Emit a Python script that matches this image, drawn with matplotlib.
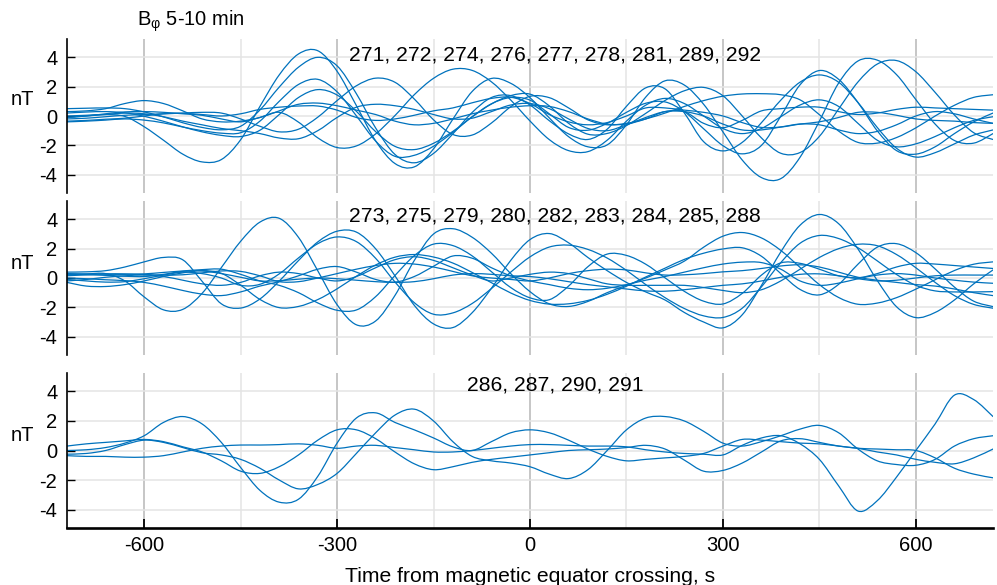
import matplotlib
matplotlib.use("Agg")
import matplotlib.pyplot as plt
from matplotlib.ticker import FixedLocator
from matplotlib.path import Path
from matplotlib.patches import PathPatch

plt.rcParams['font.family'] = ['Liberation Sans', 'DejaVu Sans']
plt.rcParams['mathtext.fontset'] = 'custom'
plt.rcParams['mathtext.rm'] = 'Liberation Sans'
plt.rcParams['mathtext.it'] = 'Liberation Sans:italic'
plt.rcParams['axes.unicode_minus'] = False

# ---------------- data ----------------
TIME_S = list(range(-720, 721, 30))   # sample times, s

X_TICKS = [-600, -300, 0, 300, 600]
X_MINOR = [-450, -150, 150, 450]
Y_TICKS = [-4, -2, 0, 2, 4]

TITLE = r'B$_{\mathrm{φ}}$ 5-10 min'
PANEL_LABELS = ['271, 272, 274, 276, 277, 278, 281, 289, 292',
                '273, 275, 279, 280, 282, 283, 284, 285, 288',
                '286, 287, 290, 291']
Y_LABEL = 'nT'
X_LABEL = 'Time from magnetic equator crossing, s'

# Panel 1 (nT)
T1 = [0.0, 0.05, 0.1, -0.03, -0.73, -1.65, -2.6, -3.13, -2.97, -1.62, 0.65, 2.8, 4.23, 4.45, 3.05, 0.71, -1.7, -3.24, -3.47, -2.24, -0.22, 1.67, 2.56, 2.23, 1.25, -0.13, -1.41, -2.1, -1.97, -0.6, 1.29, 2.4, 2.11, 0.8, -1.08, -3.0, -4.2, -4.27, -2.81, -0.35, 2.25, 3.75, 3.81, 2.82, 1.12, -0.55, -1.67, -1.85, -1.2]
T2 = [0.5, 0.53, 0.55, 0.5, 0.28, -0.06, -0.46, -0.78, -0.94, -0.7, 0.41, 1.97, 3.33, 4.0, 3.42, 1.52, -0.82, -2.62, -3.19, -2.55, -1.22, 0.24, 1.26, 1.39, 0.75, -0.32, -1.22, -1.6, -0.9, 0.66, 1.92, 1.85, 0.21, -1.75, -2.38, -1.8, -0.45, 1.08, 2.31, 2.8, 2.3, 0.92, -0.78, -2.2, -2.8, -2.5, -1.9, -1.3, -0.95]
T3 = [-0.4, -0.35, -0.28, -0.2, -0.28, -0.47, -0.75, -1.0, -1.17, -1.14, -0.35, 1.0, 2.15, 2.5, 1.65, 0.01, -1.71, -2.75, -2.68, -2.06, -1.12, -0.05, 0.83, 1.26, 1.08, 0.15, -0.78, -0.97, -0.5, 0.25, 0.87, 0.96, 0.3, -0.87, -2.02, -2.58, -2.0, -0.01, 2.13, 3.1, 2.5, 0.92, -1.01, -2.36, -2.6, -2.1, -1.2, -0.4, 0.2]
T4 = [0.2, 0.27, 0.3, 0.22, -0.02, -0.36, -0.74, -1.08, -1.32, -1.4, -0.97, 0.1, 1.26, 1.8, 1.43, 0.32, -1.07, -2.07, -2.29, -1.86, -1.05, -0.06, 0.82, 1.39, 1.49, 0.69, -0.5, -1.24, -1.19, -0.65, 0.18, 1.06, 1.72, 1.95, 1.38, 0.0, -1.5, -2.54, -2.49, -1.39, 0.48, 2.32, 3.54, 3.78, 3.02, 1.61, 0.07, -1.14, -1.6]
T5 = [0.3, 0.35, 0.5, 0.85, 1.05, 0.85, 0.35, -0.2, -0.4, -0.35, -0.1, 0.35, 0.8, 0.88, 0.7, 0.4, 0.1, -0.35, -0.6, -0.5, -0.2, 0.15, 0.4, 0.6, 0.7, 0.65, 0.3, -0.2, -0.55, -0.55, -0.2, 0.3, 0.3, -0.5, -0.8, -0.3, 0.35, 0.5, 0.6, 0.6, 0.3, 0.1, 0.2, 0.45, 0.6, 0.55, 0.5, 0.45, 0.4]
T6 = [-0.2, -0.15, -0.05, 0.05, 0.1, 0.15, 0.2, 0.25, 0.2, -0.2, -0.7, -1.08, -0.9, -0.08, 1.05, 2.06, 2.58, 2.3, 1.16, -0.26, -1.26, -1.3, -0.48, 0.63, 1.34, 1.25, 0.55, -0.26, -0.6, -0.5, -0.2, 0.2, 0.65, 1.05, 1.35, 1.5, 1.52, 1.45, 1.1, 0.09, -1.03, -1.8, -1.85, -1.47, -0.81, 0.0, 0.73, 1.27, 1.45]
T7 = [-0.1, 0.0, 0.1, 0.2, 0.15, -0.05, -0.35, -0.6, -0.85, -1.0, -1.2, -1.5, -1.55, -1.0, -0.1, 0.6, 0.8, 0.7, 0.45, 0.1, -0.2, -0.15, 0.3, 0.75, 0.85, 0.5, -0.2, -0.85, -1.0, -0.6, -0.1, 0.3, 0.3, 0.0, -0.55, -0.95, -0.95, -0.75, -0.55, -0.6, -0.95, -1.2, -1.05, -0.6, 0.0, 0.3, 0.15, -0.2, -0.5]
T8 = [-0.1, 0.0, 0.15, 0.28, 0.3, 0.25, 0.15, 0.05, -0.2, -0.4, -0.1, 0.25, -0.42, -1.49, -2.15, -2.04, -1.22, 0.03, 1.45, 2.57, 3.19, 3.11, 2.33, 1.09, -0.34, -1.61, -2.36, -2.43, -1.65, -0.35, 0.74, 1.2, 0.85, 0.0, -0.85, -1.2, -0.85, -0.05, 0.75, 1.1, 0.65, -0.5, -1.65, -2.1, -1.9, -1.4, -0.8, -0.3, -0.05]
T9 = [-0.35, -0.3, -0.22, -0.15, 0.0, 0.15, 0.18, 0.1, 0.0, 0.15, 0.45, 0.6, 0.68, 0.68, 0.4, -0.1, -0.3, -0.2, 0.05, 0.35, 0.55, 0.9, 1.2, 1.28, 0.85, 0.1, -0.4, -0.6, -0.45, 0.0, 0.55, 0.55, 0.4, 0.25, 0.0, -0.45, -0.78, -0.75, -0.55, -0.4, -0.1, 0.25, 0.25, 0.05, -0.2, -0.3, -0.35, -0.45, -0.5]

# Panel 2 (nT)
M1 = [0.2, 0.27, 0.3, -0.2, -1.29, -2.17, -2.14, -1.05, 0.71, 2.5, 3.81, 4.07, 2.77, 0.49, -1.82, -3.19, -2.93, -1.19, 1.19, 3.0, 3.36, 2.78, 1.69, 0.3, -0.93, -1.76, -1.94, -1.6, -1.0, -0.5, 0.0, 0.55, 1.15, 2.1, 2.85, 3.1, 2.73, 1.88, 0.72, -0.45, -1.33, -1.79, -1.71, -1.34, -0.76, -0.12, 0.51, 0.94, 1.1]
M2 = [0.4, 0.42, 0.5, 0.75, 1.1, 1.4, 1.24, -0.22, -1.76, -2.05, -1.43, -0.21, 1.19, 2.46, 3.19, 3.13, 1.99, 0.15, -1.86, -3.13, -3.38, -2.37, -0.7, 1.2, 2.62, 3.03, 2.4, 1.4, 0.5, -0.3, -0.95, -1.5, -2.35, -3.0, -3.4, -2.51, -0.5, 1.78, 3.6, 4.33, 3.7, 1.98, -0.17, -1.96, -2.7, -2.35, -1.5, -0.4, 0.55]
M3 = [-0.1, -0.2, -0.28, -0.25, -0.05, 0.2, 0.4, 0.3, 0.0, -0.5, -0.43, 0.28, 1.37, 2.34, 2.8, 2.48, 1.34, -0.27, -1.68, -2.47, -2.38, -1.74, -0.72, 0.4, 1.44, 2.11, 2.24, 1.95, 1.36, 0.52, -0.45, -1.34, -2.08, -2.58, -2.69, -2.06, -0.6, 1.05, 2.37, 2.9, 2.69, 2.06, 1.17, 0.24, -0.5, -0.88, -0.95, -0.95, -0.93]
M4 = [-0.3, -0.55, -0.58, -0.45, -0.2, 0.1, 0.35, 0.5, 0.32, -0.49, -1.46, -2.02, -1.94, -1.47, -0.74, 0.12, 0.89, 1.42, 1.6, 1.43, 1.02, 0.38, -0.32, -1.02, -1.53, -1.78, -1.76, -1.53, -1.11, -0.56, 0.07, 0.67, 1.27, 1.69, 1.98, 2.06, 1.48, 0.3, -0.78, -1.15, -0.43, 0.94, 2.1, 2.34, 1.73, 0.62, -0.62, -1.58, -1.95]
M5 = [0.3, 0.28, 0.26, 0.25, 0.28, 0.38, 0.48, 0.57, 0.6, 0.25, -0.2, -0.5, -1.0, -1.7, -2.2, -2.18, -1.27, 0.17, 1.52, 2.31, 2.21, 1.51, 0.43, -0.65, -1.35, -1.48, -0.55, 0.77, 1.63, 1.54, 0.94, 0.01, -0.91, -1.58, -1.77, -1.05, 0.2, 1.03, 1.0, 0.6, 0.15, 0.02, 0.3, 0.75, 1.0, 0.95, 0.85, 0.75, 0.65]
M6 = [0.0, -0.05, -0.12, -0.18, -0.3, -0.55, -0.85, -1.1, -1.2, -0.95, -0.55, -0.25, 0.15, 0.6, 0.78, 0.4, -0.1, -0.28, 0.1, 0.8, 1.5, 1.35, 0.7, 0.15, -0.2, -0.45, -0.7, -0.8, -0.7, -0.45, -0.15, 0.1, 0.4, 0.7, 0.95, 1.08, 1.05, 0.6, -0.2, -0.5, -0.35, -0.05, 0.2, 0.3, 0.2, 0.0, -0.15, -0.28, -0.36]
M7 = [0.15, 0.22, 0.28, 0.28, 0.24, 0.2, 0.22, 0.35, 0.48, 0.45, 0.15, -0.25, -0.25, 0.0, 0.3, 0.6, 0.85, 1.0, 0.95, 0.75, 0.45, 0.15, 0.0, -0.1, -0.2, 0.0, 0.3, 0.5, 0.6, 0.55, 0.35, 0.2, 0.22, 0.3, 0.42, 0.5, 0.65, 0.82, 0.9, 0.75, 0.4, 0.05, -0.15, -0.3, -0.45, -0.55, -0.75, -1.0, -1.2]
M8 = [-0.2, -0.1, 0.05, 0.15, 0.2, 0.1, -0.15, -0.4, -0.5, -0.3, 0.15, 0.4, 0.3, 0.0, -0.2, 0.1, 0.7, 1.25, 1.45, 1.2, 0.7, 0.2, -0.2, 0.0, 0.25, 0.4, 0.3, -0.05, -0.4, -0.5, -0.5, -0.5, -0.5, -0.65, -0.85, -1.0, -0.8, -0.2, 0.6, 1.4, 2.0, 2.3, 2.2, 1.6, 0.7, -0.3, -1.2, -1.8, -2.06]
M9 = [0.25, 0.22, 0.18, 0.12, 0.1, 0.25, 0.45, 0.48, 0.3, 0.05, -0.2, -0.18, -0.08, 0.0, -0.05, -0.15, -0.25, -0.3, -0.25, -0.05, 0.2, 0.3, 0.25, 0.15, 0.1, -0.05, -0.25, -0.45, -0.6, -0.75, -0.88, -0.9, -0.8, -0.65, -0.5, -0.4, -0.2, 0.05, 0.25, 0.28, 0.15, -0.05, -0.2, -0.15, 0.0, 0.15, 0.2, 0.2, 0.2]

# Panel 3 (nT)
B1 = [0.0, 0.05, 0.2, 0.5, 1.0, 1.9, 2.3, 1.8, 0.55, -1.15, -2.7, -3.5, -3.3, -1.75, 0.5, 2.2, 2.55, 1.9, 1.4, 0.85, 0.25, 0.0, 0.6, 1.2, 1.4, 1.2, 0.7, 0.1, -0.4, -0.7, -0.6, -0.5, -0.4, -0.2, 0.3, 0.75, 0.7, 0.6, 0.5, 0.45, 0.3, 0.15, 0.1, 0.05, 0.0, -0.5, -1.2, -1.6, -1.85]
B2 = [-0.25, -0.2, 0.0, 0.4, 0.7, 0.55, 0.2, -0.15, -0.3, -0.6, -1.2, -2.0, -2.6, -2.3, -1.55, -0.2, 1.2, 2.4, 2.8, 2.0, 0.6, -0.4, -0.7, -0.85, -1.1, -1.6, -1.9, -1.3, 0.0, 1.4, 2.2, 2.3, 2.0, 1.3, 0.5, 0.3, 0.6, 1.0, 1.45, 1.7, 1.2, 0.1, -0.7, -0.95, -1.0, -0.6, 0.3, 0.8, 1.0]
B3 = [-0.35, -0.4, -0.4, -0.45, -0.45, -0.35, -0.1, 0.15, 0.3, 0.37, 0.37, 0.4, 0.45, 0.35, 0.15, 0.3, 0.35, 0.2, 0.05, -0.1, -0.1, 0.0, 0.15, 0.3, 0.4, 0.4, 0.35, 0.3, 0.3, 0.25, 0.05, -0.1, -0.2, -0.25, -0.3, 0.35, 0.85, 1.0, 0.45, -0.6, -2.4, -4.1, -3.4, -1.8, 0.0, 1.8, 3.75, 3.45, 2.3]
B4 = [0.3, 0.45, 0.55, 0.65, 0.75, 0.6, 0.25, -0.1, -0.7, -1.4, -1.55, -1.1, -0.3, 0.7, 1.4, 1.4, 0.8, -0.1, -0.9, -1.3, -1.1, -0.8, -0.6, -0.45, -0.3, -0.15, 0.0, 0.05, 0.1, 0.2, 0.35, 0.1, -0.65, -1.4, -1.35, -0.85, -0.1, 0.65, 0.8, 0.55, 0.3, 0.15, -0.1, -0.3, -0.6, -0.8, -0.9, -0.5, 0.1]

PANELS = [[T1, T2, T3, T4, T5, T6, T7, T8, T9],
          [M1, M2, M3, M4, M5, M6, M7, M8, M9],
          [B1, B2, B3, B4]]

# ---------------- style ----------------
FS = 14.5
FS_TEXT = 15.2
LINE_COLOR = '#0072BD'
W, H = 997, 585
AX_BOXES = [(67, 39, 993, 193), (67, 201, 993, 355), (67, 373, 993, 528)]  # px: left, top, right, bottom
LABEL_Y = [3.76, 3.88, 4.05]
NT_Y = [1.15, 1.0, 1.0]


def smooth_path(xs, ys):
    """Smooth (Catmull-Rom style Bezier) path through the sampled points."""
    n = len(xs)
    verts = [(xs[0], ys[0])]
    codes = [Path.MOVETO]
    for k in range(n - 1):
        x0, y0 = xs[max(k - 1, 0)], ys[max(k - 1, 0)]
        x1, y1 = xs[k], ys[k]
        x2, y2 = xs[k + 1], ys[k + 1]
        x3, y3 = xs[min(k + 2, n - 1)], ys[min(k + 2, n - 1)]
        verts += [(x1 + (x2 - x0) / 6.0, y1 + (y2 - y0) / 6.0),
                  (x2 - (x3 - x1) / 6.0, y2 - (y3 - y1) / 6.0),
                  (x2, y2)]
        codes += [Path.CURVE4] * 3
    return Path(verts, codes)


fig = plt.figure(figsize=(W / 100, H / 100), dpi=100)

for i, (box, series) in enumerate(zip(AX_BOXES, PANELS)):
    l, t, r, b = box
    ax = fig.add_axes([l / W, 1 - b / H, (r - l) / W, (b - t) / H])
    ax.set_xlim(-720, 720)
    ax.set_ylim(-5.25, 5.25)
    ax.xaxis.set_major_locator(FixedLocator(X_TICKS))
    ax.xaxis.set_minor_locator(FixedLocator(X_MINOR))
    ax.yaxis.set_major_locator(FixedLocator(Y_TICKS))
    ax.set_axisbelow(True)
    ax.grid(which='major', axis='x', color='#c2c2c2', lw=1.3)
    ax.grid(which='minor', axis='x', color='#e4e4e4', lw=1.1)
    ax.grid(which='major', axis='y', color='#e4e4e4', lw=1.1)

    for s in series:
        ax.add_patch(PathPatch(smooth_path(TIME_S, s), fill=False,
                               edgecolor=LINE_COLOR, lw=0.9,
                               joinstyle='round', capstyle='round'))

    for sp in ('top', 'right'):
        ax.spines[sp].set_visible(False)
    ax.spines['left'].set_linewidth(1.2)
    ax.tick_params(axis='y', direction='in', length=6, width=1.0,
                   labelsize=FS, pad=7)
    ax.tick_params(axis='x', which='minor', length=0)
    if i < 2:
        ax.spines['bottom'].set_visible(False)
        ax.tick_params(axis='x', which='both', bottom=False, labelbottom=False)
    else:
        ax.spines['bottom'].set_linewidth(1.9)
        ax.tick_params(axis='x', which='major', direction='in', length=6.5,
                       width=1.3, labelsize=FS, pad=6)

    ax.text(39, LABEL_Y[i], PANEL_LABELS[i], ha='center', va='baseline',
            fontsize=FS_TEXT, color='#000000')
    ax.text(-0.048, NT_Y[i], Y_LABEL, transform=ax.get_yaxis_transform(),
            ha='center', va='center', fontsize=FS)

fig.text(137 / W, 1 - 26 / H, TITLE, ha='left', va='baseline', fontsize=FS)
fig.text(530 / W, 3 / H, X_LABEL, ha='center', va='baseline', fontsize=FS_TEXT)

fig.savefig('out.png', dpi=100)
